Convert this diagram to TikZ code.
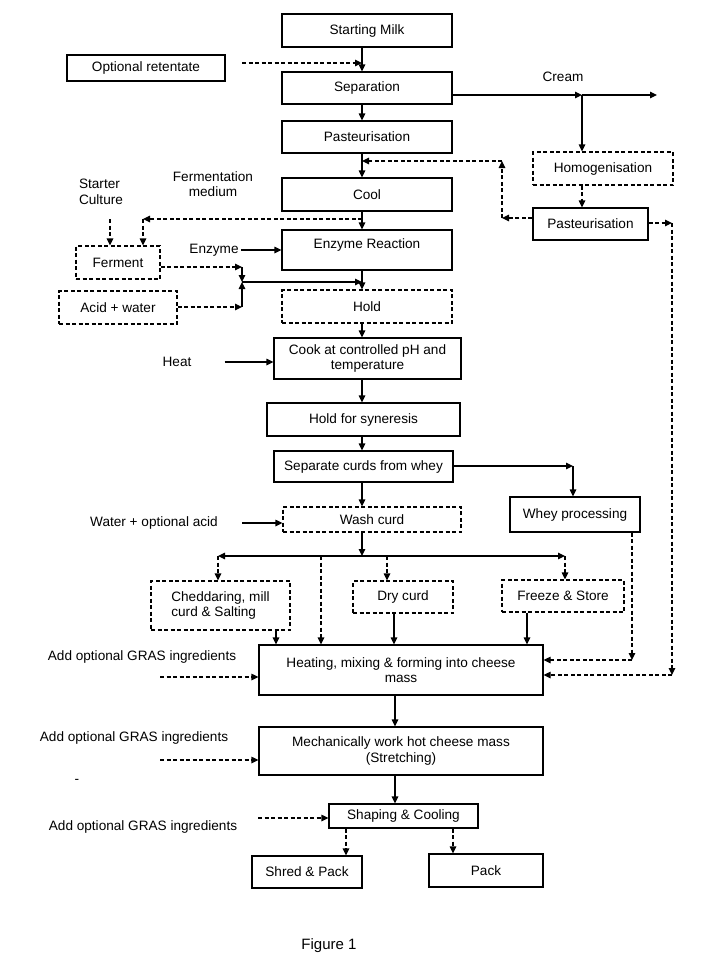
\documentclass[tikz,border=0pt]{standalone}
\usepackage{fontspec}
\setmainfont{Liberation Sans}
\usetikzlibrary{arrows.meta,calc}
\begin{document}
\begin{tikzpicture}[x=1pt,y=-1pt,
  every node/.style={font=\fontsize{13.6}{15.5}\selectfont},
  sbox/.style={draw, line width=1.2pt, inner sep=0pt, align=center},
  dbox/.style={sbox, dash pattern=on 4pt off 2.5pt},
  lbl/.style={inner sep=0pt, align=center},
  arr/.style={line width=1.2pt, -{Triangle[length=7pt,width=6.5pt]}},
  darr/.style={arr, dash pattern=on 4pt off 2.5pt}]
\fill[white] (0,0) rectangle (708,961);
\useasboundingbox (0,0) rectangle (708,961);

% main column
\node[sbox, minimum width=170pt, minimum height=33pt] (milk) at (367,30.5) {Starting Milk};
\node[sbox, minimum width=170pt, minimum height=32pt] (sep) at (367,88) {Separation};
\node[sbox, minimum width=170pt, minimum height=32pt] (past) at (367,137) {Pasteurisation};
\node[sbox, minimum width=170pt, minimum height=33pt] (cool) at (367,194.5) {Cool};
\node[sbox, minimum width=170pt, minimum height=40pt, text depth=12pt] (enz) at (367,250) {Enzyme Reaction};
\node[dbox, minimum width=170pt, minimum height=33pt] (hold) at (367,306.5) {Hold};
\node[sbox, minimum width=187pt, minimum height=41pt] (cook) at (367.5,358.5) {Cook at controlled pH and\\temperature};
\node[sbox, minimum width=193pt, minimum height=33pt] (syn) at (363.5,419.5) {Hold for syneresis};
\node[sbox, minimum width=179pt, minimum height=31pt] (sepc) at (363.5,466.5) {Separate curds from whey};
\node[dbox, minimum width=178pt, minimum height=25pt] (wash) at (372,519.5) {Wash curd};
\node[dbox, minimum width=139pt, minimum height=49pt, align=left] (ched) at (220.5,605.5) {Cheddaring, mill\\curd \& Salting};
\node[dbox, minimum width=100pt, minimum height=32pt] (dry) at (403,597) {Dry curd};
\node[dbox, minimum width=122pt, minimum height=32pt] (freeze) at (563,596) {Freeze \& Store};
\node[sbox, minimum width=284pt, minimum height=50pt] (heat) at (401,670) {Heating, mixing \& forming into cheese\\mass};
\node[sbox, minimum width=284pt, minimum height=48pt] (mech) at (401,751) {Mechanically work hot cheese mass\\(Stretching)};
\node[sbox, minimum width=149pt, minimum height=24pt] (shape) at (403.5,816) {Shaping \& Cooling};
\node[sbox, minimum width=110pt, minimum height=32pt] (shred) at (307,872) {Shred \& Pack};
\node[sbox, minimum width=114pt, minimum height=33pt] (pack) at (486,870.5) {Pack};

% right column
\node[dbox, minimum width=140pt, minimum height=33pt] (homog) at (603,168.5) {Homogenisation};
\node[sbox, minimum width=115pt, minimum height=32pt] (past2) at (590.5,224) {Pasteurisation};
\node[sbox, minimum width=130pt, minimum height=35pt] (whey) at (575,514.5) {Whey processing};

% left column
\node[dbox, minimum width=84pt, minimum height=33pt] (ferment) at (118,262.5) {Ferment};
\node[dbox, minimum width=118pt, minimum height=33pt] (acid) at (118,307.5) {Acid + water};
\node[sbox, minimum width=158pt, minimum height=26pt] (retent) at (146,68) {Optional retentate};

% labels
\node[lbl] (cream) at (563,77) {Cream};
\node[lbl, align=left] (starter) at (101,192) {Starter\\Culture};
\node[lbl] (fmed) at (213,184) {Fermentation\\medium};
\node[lbl] (enzl) at (214,250) {Enzyme};
\node[lbl] (heatl) at (177,362) {Heat};
\node[lbl] (waterl) at (154,523) {Water + optional acid};
\node[lbl] (g1) at (142,657) {Add optional GRAS ingredients};
\node[lbl] (g2) at (134,738) {Add optional GRAS ingredients};
\node[lbl] (g3) at (143,827) {Add optional GRAS ingredients};
\node[lbl] (dash) at (77,781) {-};
\node[lbl, font=\fontsize{15}{18}\selectfont] (fig) at (329,946) {Figure 1};

% coordinates
\coordinate (mx) at (362,0);
\coordinate (rs) at (242,63);
\coordinate (cj) at (582,95);
\coordinate (ce) at (657,95);
\coordinate (pl1) at (502,218);
\coordinate (pl2) at (502,161);
\coordinate (pr1) at (672,223);
\coordinate (pr2) at (672,675);
\coordinate (fm1) at (362,219);
\coordinate (fm2) at (143,219);
\coordinate (sc) at (110,219);
\coordinate (j1) at (242,267);
\coordinate (j2) at (242,307);
\coordinate (j3) at (242,282);
\coordinate (s1) at (573,466);
\coordinate (bj) at (362,556);
\coordinate (bl) at (218,556);
\coordinate (br) at (565,556);
\coordinate (b2) at (321,556);
\coordinate (b3) at (387,556);
\coordinate (c1) at (276,0);
\coordinate (c2) at (394,0);
\coordinate (c3) at (527,0);
\coordinate (w1) at (632,660);
\coordinate (g1s) at (160,677);
\coordinate (g2s) at (160,760);
\coordinate (g3s) at (258,818);
\coordinate (lx) at (395,0);
\coordinate (d1) at (346,0);
\coordinate (d2) at (453,0);

% main flow
\draw[arr] (milk.south -| mx) -- (sep.north -| mx);
\draw[darr] (rs) -- (rs -| mx);
\draw[arr] (sep.south -| mx) -- (past.north -| mx);
\draw[arr] (past.south -| mx) -- (cool.north -| mx);
\draw[arr] (cool.south -| mx) -- (enz.north -| mx);
\draw[arr] (enz.south -| mx) -- (hold.north -| mx);
\draw[arr] (hold.south -| mx) -- (cook.north -| mx);
\draw[arr] (cook.south -| mx) -- (syn.north -| mx);
\draw[arr] (syn.south -| mx) -- (sepc.north -| mx);
\draw[arr] (sepc.south -| mx) -- (wash.north -| mx);
\draw[arr] (wash.south -| mx) -- (bj);

% cream branch
\draw[arr] (sep.east |- cj) -- (cj);
\draw[arr] (cj) -- (ce);
\draw[arr] (cj) -- (homog.north -| cj);
\draw[darr] (homog.south -| cj) -- (past2.north -| cj);
\draw[darr] (past2.west |- pl1) -- (pl1);
\draw[darr] (pl1) -- (pl2);
\draw[darr] (pl2) -- (pl2 -| mx);
\draw[darr] (past2.east |- pr1) -- (pr1);
\draw[darr] (pr1) -- (pr2);
\draw[darr] (pr2) -- (heat.east |- pr2);

% fermentation
\draw[darr] (fm1) -- (fm2);
\draw[darr] (fm2) -- (ferment.north -| fm2);
\draw[darr] (sc) -- (ferment.north -| sc);
\draw[darr] (ferment.east |- j1) -- (j1);
\draw[darr] (acid.east |- j2) -- (j2);
\draw[arr] (j1) -- (j3);
\draw[arr] (j2) -- (j3);
\draw[arr] (j3) -- (j3 -| mx);
\draw[arr, shorten <=2pt] (enzl.east) -- (enzl.east -| enz.west);
\draw[arr, shorten <=33pt] (heatl.east) -- (heatl.east -| cook.west);

% whey
\draw[arr] (sepc.east |- s1) -- (s1);
\draw[arr] (s1) -- (whey.north -| s1);
\draw[darr] (whey.south -| w1) -- (w1);
\draw[darr] (w1) -- (heat.east |- w1);

% wash and branches
\draw[arr, shorten <=24pt] (waterl.east) -- (waterl.east -| wash.west);
\draw[arr] (bj) -- (bl);
\draw[arr] (bj) -- (br);
\draw[darr] (bl) -- (ched.north -| bl);
\draw[darr] (b2) -- (heat.north -| b2);
\draw[darr] (b3) -- (dry.north -| b3);
\draw[darr] (br) -- (freeze.north -| br);
\draw[arr] (ched.south -| c1) -- (heat.north -| c1);
\draw[arr] (dry.south -| c2) -- (heat.north -| c2);
\draw[arr] (freeze.south -| c3) -- (heat.north -| c3);

% GRAS inputs
\draw[darr] (g1s) -- (g1s -| heat.west);
\draw[darr] (g2s) -- (g2s -| mech.west);
\draw[darr] (g3s) -- (g3s -| shape.west);

% bottom
\draw[arr] (heat.south -| lx) -- (mech.north -| lx);
\draw[arr] (mech.south -| lx) -- (shape.north -| lx);
\draw[darr] (shape.south -| d1) -- (shred.north -| d1);
\draw[darr] (shape.south -| d2) -- (pack.north -| d2);
\end{tikzpicture}
\end{document}
